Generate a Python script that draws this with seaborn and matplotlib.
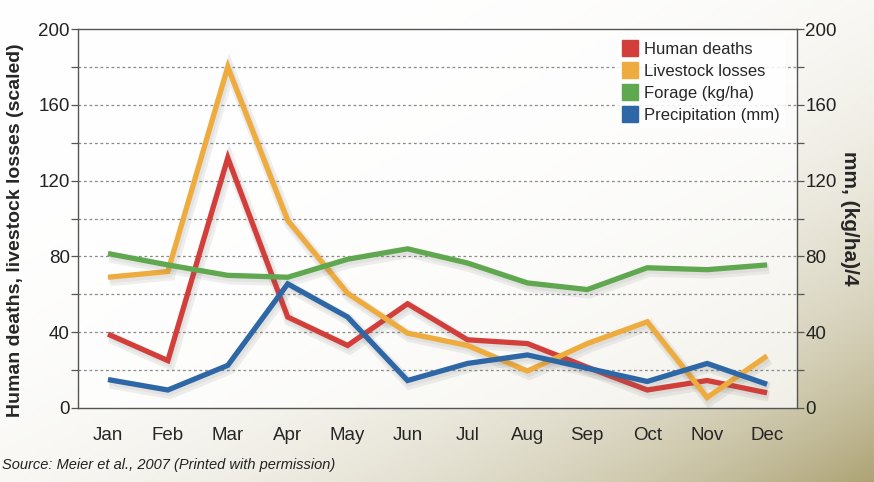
import numpy as np
import pandas as pd
import matplotlib
matplotlib.use("Agg")
import matplotlib.pyplot as plt
import matplotlib.patheffects as pe
from matplotlib.lines import Line2D
from matplotlib.ticker import MultipleLocator, FixedLocator
from matplotlib import font_manager
import seaborn as sns

months = ["Jan", "Feb", "Mar", "Apr", "May", "Jun",
          "Jul", "Aug", "Sep", "Oct", "Nov", "Dec"]
human_deaths = [39, 25, 132, 48, 33, 55, 36, 34, 21.5, 9.5, 14.5, 8]
livestock_losses = [69, 72, 180, 99, 60.5, 39.5, 33, 19.5, 34, 45.5, 5.5, 27.5]
forage = [81.5, 75.5, 70, 69, 78.5, 84, 76.5, 66, 62.5, 74, 73, 75.5]
precipitation = [15, 9.5, 22.5, 65.5, 48, 14.5, 23.5, 28, 21, 14, 23.5, 12.5]

series_names = ["Human deaths", "Livestock losses", "Forage (kg/ha)", "Precipitation (mm)"]
series_colors = ["#d23f3a", "#efac3e", "#5fa84f", "#2e67a6"]

df = pd.DataFrame({
    "month": months * 4,
    "value": human_deaths + livestock_losses + forage + precipitation,
    "series": np.repeat(series_names, len(months)),
})

sns.set_theme(style="white")
available = {f.name for f in font_manager.fontManager.ttflist}
base_font = "Liberation Sans" if "Liberation Sans" in available else "DejaVu Sans"
narrow_font = "Liberation Sans Narrow" if "Liberation Sans Narrow" in available else base_font
plt.rcParams["font.family"] = [base_font, "DejaVu Sans"]

W, H = 874, 482
fig = plt.figure(figsize=(W / 100, H / 100), dpi=100)

# soft diagonal background wash, khaki toward the lower right
bg = fig.add_axes([0, 0, 1, 1], zorder=-10)
yy, xx = np.mgrid[0:1:241j, 0:1:437j]
t = np.clip((xx + yy) / 2.0, 0, 1) ** 3.6
c0 = np.array([1.0, 1.0, 1.0])
c1 = np.array([0.68, 0.64, 0.46])
img = c0[None, None, :] * (1 - t[..., None]) + c1[None, None, :] * t[..., None]
bg.imshow(img, aspect="auto", extent=[0, 1, 0, 1], origin="upper")
bg.set_axis_off()

ax = fig.add_axes([78 / W, 1 - 408 / H, (797 - 78) / W, (408 - 29) / H])
ax.set_facecolor((1, 1, 1, 0.72))

shadow = [pe.SimpleLineShadow(offset=(1.5, -2.5), shadow_color="#666666", alpha=0.10, linewidth=8),
          pe.SimpleLineShadow(offset=(1.0, -1.8), shadow_color="#666666", alpha=0.08, linewidth=5),
          pe.Normal()]
sns.lineplot(data=df, x="month", y="value", hue="series", hue_order=series_names,
             palette=series_colors, linewidth=3.8, legend=False, ax=ax, sort=False,
             path_effects=shadow)
for ln in ax.get_lines():
    ln.set_solid_joinstyle("miter")
    ln.set_solid_capstyle("butt")

ax.set_xlim(-0.5, 11.5)
ax.set_ylim(0, 200)
ax.set_xlabel("")
ax.set_ylabel("Human deaths, livestock losses (scaled)", fontsize=14,
              fontweight="bold")
ax.yaxis.set_label_coords(-0.075, 0.47)

ax.yaxis.set_major_locator(MultipleLocator(40))
ax.yaxis.set_minor_locator(MultipleLocator(20))
ax.grid(False)
for v in range(20, 200, 20):
    ax.axhline(v, color="#8a8a8a", linestyle=(0, (2.2, 2.2)), linewidth=0.9, zorder=0.5)

ax.xaxis.set_major_locator(FixedLocator(np.arange(12)))
ax.xaxis.set_minor_locator(FixedLocator(np.arange(-0.5, 12, 1)))
ax.set_xticklabels(months, fontsize=13.5, family=[narrow_font, "DejaVu Sans"])
ax.tick_params(axis="x", which="major", length=0, pad=14)
ax.tick_params(axis="x", which="minor", length=6, width=0.9, color="#555555", direction="out")
ax.tick_params(axis="y", which="both", length=5, width=0.9, color="#555555",
               direction="out", labelsize=13.5, pad=1, labelcolor="#222222")

for s in ax.spines.values():
    s.set_visible(True)
    s.set_color("#555555")
    s.set_linewidth(1.0)

ax2 = ax.twinx()
ax2.set_ylim(0, 200)
ax2.yaxis.set_major_locator(MultipleLocator(40))
ax2.yaxis.set_minor_locator(MultipleLocator(20))
ax2.tick_params(axis="y", which="both", length=5, width=0.9, color="#555555",
                direction="out", labelsize=13.5, pad=1, labelcolor="#222222")
ax2.set_ylabel("mm, (kg/ha)/4", rotation=-90, fontsize=15, fontweight="bold",
               va="center")
ax2.yaxis.set_label_coords((850 - 78) / (797 - 78), 0.5)
for s in ax2.spines.values():
    s.set_visible(False)

handles = [Line2D([], [], marker="s", linestyle="none", markersize=12,
                  markerfacecolor=c, markeredgecolor=c) for c in series_colors]
leg = ax.legend(handles, series_names, loc="upper right", bbox_to_anchor=(0.995, 1.0),
                frameon=True, fontsize=12, handletextpad=0.35, labelspacing=0.42,
                borderpad=0.3, handlelength=1.0)
leg.get_frame().set_facecolor("white")
leg.get_frame().set_edgecolor("none")
leg.get_frame().set_alpha(0.85)

fig.text(0.002, 1 - 465 / H, "Source: Meier et al., 2007 (Printed with permission)",
         fontsize=10.5, style="italic", color="#222222", va="center", ha="left",
         family=[narrow_font, "DejaVu Sans"])

fig.savefig("out.png", dpi=100)
